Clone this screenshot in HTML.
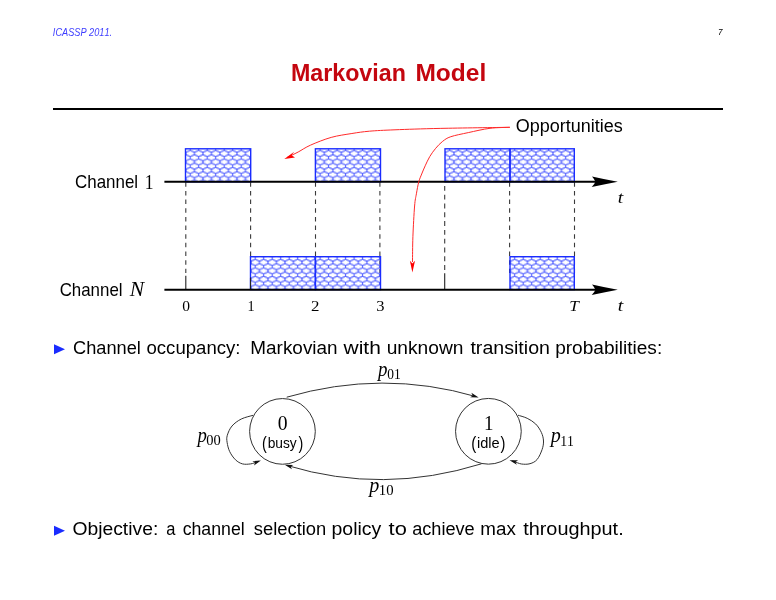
<!DOCTYPE html>
<html><head><meta charset="utf-8"><title>Markovian Model</title>
<style>
html,body{margin:0;padding:0;background:#fff;}
body{width:776px;height:600px;overflow:hidden;}
svg{display:block;}
text{font-kerning:none;}
</style></head>
<body>
<svg width="776" height="600" viewBox="0 0 776 600">
<rect width="776" height="600" fill="#fff"/>
<text x="52.83" y="35.50" font-family="Liberation Sans, sans-serif" font-size="10.1" font-style="italic" textLength="59.32" lengthAdjust="spacingAndGlyphs" fill="#3c3cff">ICASSP 2011.</text>
<text x="717.95" y="35.00" font-family="Liberation Sans, sans-serif" font-size="9.0" font-style="italic" textLength="4.59" lengthAdjust="spacingAndGlyphs" fill="#000">7</text>
<text x="290.93" y="80.50" font-family="Liberation Sans, sans-serif" font-size="24.0" font-weight="bold" textLength="114.90" lengthAdjust="spacingAndGlyphs" fill="#c4060f">Markovian</text>
<text x="415.45" y="80.50" font-family="Liberation Sans, sans-serif" font-size="24.0" font-weight="bold" textLength="70.80" lengthAdjust="spacingAndGlyphs" fill="#c4060f">Model</text>
<rect x="53" y="108" width="670" height="2" fill="#000"/>
<line x1="185.8" y1="182.3" x2="185.8" y2="273" stroke="#3a3a3a" stroke-width="1.1" stroke-dasharray="4.5 4.15"/>
<line x1="250.6" y1="182.3" x2="250.6" y2="273" stroke="#3a3a3a" stroke-width="1.1" stroke-dasharray="4.5 4.15"/>
<line x1="315.5" y1="182.3" x2="315.5" y2="273" stroke="#3a3a3a" stroke-width="1.1" stroke-dasharray="4.5 4.15"/>
<line x1="379.9" y1="182.3" x2="379.9" y2="273" stroke="#3a3a3a" stroke-width="1.1" stroke-dasharray="4.5 4.15"/>
<line x1="444.7" y1="185.9" x2="444.7" y2="270" stroke="#3a3a3a" stroke-width="1.1" stroke-dasharray="4.9 3.9"/>
<line x1="509.6" y1="182.3" x2="509.6" y2="273" stroke="#3a3a3a" stroke-width="1.1" stroke-dasharray="4.5 4.15"/>
<line x1="574.5" y1="182.3" x2="574.5" y2="273" stroke="#3a3a3a" stroke-width="1.1" stroke-dasharray="4.5 4.15"/>
<defs>
<pattern id="hp0" patternUnits="userSpaceOnUse" x="185.95" y="149.30" width="8.5" height="8.45"><ellipse cx="0.000" cy="0.000" rx="4.250" ry="3.0" fill="none" stroke="#2a3cff" stroke-width="0.6"/><ellipse cx="8.500" cy="0.000" rx="4.250" ry="3.0" fill="none" stroke="#2a3cff" stroke-width="0.6"/><ellipse cx="4.250" cy="4.225" rx="4.250" ry="3.0" fill="none" stroke="#2a3cff" stroke-width="0.6"/><ellipse cx="0.000" cy="8.450" rx="4.250" ry="3.0" fill="none" stroke="#2a3cff" stroke-width="0.6"/><ellipse cx="8.500" cy="8.450" rx="4.250" ry="3.0" fill="none" stroke="#2a3cff" stroke-width="0.6"/><ellipse cx="-4.250" cy="4.225" rx="4.250" ry="3.0" fill="none" stroke="#2a3cff" stroke-width="0.6"/><ellipse cx="12.750" cy="4.225" rx="4.250" ry="3.0" fill="none" stroke="#2a3cff" stroke-width="0.6"/><ellipse cx="4.250" cy="-4.225" rx="4.250" ry="3.0" fill="none" stroke="#2a3cff" stroke-width="0.6"/><ellipse cx="4.250" cy="12.675" rx="4.250" ry="3.0" fill="none" stroke="#2a3cff" stroke-width="0.6"/><path d="M0,0" stroke="#2a3cff" stroke-width="0.6" fill="none"/></pattern>
<pattern id="hp1" patternUnits="userSpaceOnUse" x="315.85" y="149.30" width="8.5" height="8.45"><ellipse cx="0.000" cy="0.000" rx="4.250" ry="3.0" fill="none" stroke="#2a3cff" stroke-width="0.6"/><ellipse cx="8.500" cy="0.000" rx="4.250" ry="3.0" fill="none" stroke="#2a3cff" stroke-width="0.6"/><ellipse cx="4.250" cy="4.225" rx="4.250" ry="3.0" fill="none" stroke="#2a3cff" stroke-width="0.6"/><ellipse cx="0.000" cy="8.450" rx="4.250" ry="3.0" fill="none" stroke="#2a3cff" stroke-width="0.6"/><ellipse cx="8.500" cy="8.450" rx="4.250" ry="3.0" fill="none" stroke="#2a3cff" stroke-width="0.6"/><ellipse cx="-4.250" cy="4.225" rx="4.250" ry="3.0" fill="none" stroke="#2a3cff" stroke-width="0.6"/><ellipse cx="12.750" cy="4.225" rx="4.250" ry="3.0" fill="none" stroke="#2a3cff" stroke-width="0.6"/><ellipse cx="4.250" cy="-4.225" rx="4.250" ry="3.0" fill="none" stroke="#2a3cff" stroke-width="0.6"/><ellipse cx="4.250" cy="12.675" rx="4.250" ry="3.0" fill="none" stroke="#2a3cff" stroke-width="0.6"/><path d="M0,0" stroke="#2a3cff" stroke-width="0.6" fill="none"/></pattern>
<pattern id="hp2" patternUnits="userSpaceOnUse" x="445.45" y="149.30" width="8.5" height="8.45"><ellipse cx="0.000" cy="0.000" rx="4.250" ry="3.0" fill="none" stroke="#2a3cff" stroke-width="0.6"/><ellipse cx="8.500" cy="0.000" rx="4.250" ry="3.0" fill="none" stroke="#2a3cff" stroke-width="0.6"/><ellipse cx="4.250" cy="4.225" rx="4.250" ry="3.0" fill="none" stroke="#2a3cff" stroke-width="0.6"/><ellipse cx="0.000" cy="8.450" rx="4.250" ry="3.0" fill="none" stroke="#2a3cff" stroke-width="0.6"/><ellipse cx="8.500" cy="8.450" rx="4.250" ry="3.0" fill="none" stroke="#2a3cff" stroke-width="0.6"/><ellipse cx="-4.250" cy="4.225" rx="4.250" ry="3.0" fill="none" stroke="#2a3cff" stroke-width="0.6"/><ellipse cx="12.750" cy="4.225" rx="4.250" ry="3.0" fill="none" stroke="#2a3cff" stroke-width="0.6"/><ellipse cx="4.250" cy="-4.225" rx="4.250" ry="3.0" fill="none" stroke="#2a3cff" stroke-width="0.6"/><ellipse cx="4.250" cy="12.675" rx="4.250" ry="3.0" fill="none" stroke="#2a3cff" stroke-width="0.6"/><path d="M0,0" stroke="#2a3cff" stroke-width="0.6" fill="none"/></pattern>
<pattern id="hp3" patternUnits="userSpaceOnUse" x="510.45" y="149.30" width="8.5" height="8.45"><ellipse cx="0.000" cy="0.000" rx="4.250" ry="3.0" fill="none" stroke="#2a3cff" stroke-width="0.6"/><ellipse cx="8.500" cy="0.000" rx="4.250" ry="3.0" fill="none" stroke="#2a3cff" stroke-width="0.6"/><ellipse cx="4.250" cy="4.225" rx="4.250" ry="3.0" fill="none" stroke="#2a3cff" stroke-width="0.6"/><ellipse cx="0.000" cy="8.450" rx="4.250" ry="3.0" fill="none" stroke="#2a3cff" stroke-width="0.6"/><ellipse cx="8.500" cy="8.450" rx="4.250" ry="3.0" fill="none" stroke="#2a3cff" stroke-width="0.6"/><ellipse cx="-4.250" cy="4.225" rx="4.250" ry="3.0" fill="none" stroke="#2a3cff" stroke-width="0.6"/><ellipse cx="12.750" cy="4.225" rx="4.250" ry="3.0" fill="none" stroke="#2a3cff" stroke-width="0.6"/><ellipse cx="4.250" cy="-4.225" rx="4.250" ry="3.0" fill="none" stroke="#2a3cff" stroke-width="0.6"/><ellipse cx="4.250" cy="12.675" rx="4.250" ry="3.0" fill="none" stroke="#2a3cff" stroke-width="0.6"/><path d="M0,0" stroke="#2a3cff" stroke-width="0.6" fill="none"/></pattern>
<pattern id="hp4" patternUnits="userSpaceOnUse" x="250.95" y="258.20" width="8.5" height="8.45"><ellipse cx="0.000" cy="0.000" rx="4.250" ry="3.0" fill="none" stroke="#2a3cff" stroke-width="0.6"/><ellipse cx="8.500" cy="0.000" rx="4.250" ry="3.0" fill="none" stroke="#2a3cff" stroke-width="0.6"/><ellipse cx="4.250" cy="4.225" rx="4.250" ry="3.0" fill="none" stroke="#2a3cff" stroke-width="0.6"/><ellipse cx="0.000" cy="8.450" rx="4.250" ry="3.0" fill="none" stroke="#2a3cff" stroke-width="0.6"/><ellipse cx="8.500" cy="8.450" rx="4.250" ry="3.0" fill="none" stroke="#2a3cff" stroke-width="0.6"/><ellipse cx="-4.250" cy="4.225" rx="4.250" ry="3.0" fill="none" stroke="#2a3cff" stroke-width="0.6"/><ellipse cx="12.750" cy="4.225" rx="4.250" ry="3.0" fill="none" stroke="#2a3cff" stroke-width="0.6"/><ellipse cx="4.250" cy="-4.225" rx="4.250" ry="3.0" fill="none" stroke="#2a3cff" stroke-width="0.6"/><ellipse cx="4.250" cy="12.675" rx="4.250" ry="3.0" fill="none" stroke="#2a3cff" stroke-width="0.6"/><path d="M0,0" stroke="#2a3cff" stroke-width="0.6" fill="none"/></pattern>
<pattern id="hp5" patternUnits="userSpaceOnUse" x="315.85" y="258.20" width="8.5" height="8.45"><ellipse cx="0.000" cy="0.000" rx="4.250" ry="3.0" fill="none" stroke="#2a3cff" stroke-width="0.6"/><ellipse cx="8.500" cy="0.000" rx="4.250" ry="3.0" fill="none" stroke="#2a3cff" stroke-width="0.6"/><ellipse cx="4.250" cy="4.225" rx="4.250" ry="3.0" fill="none" stroke="#2a3cff" stroke-width="0.6"/><ellipse cx="0.000" cy="8.450" rx="4.250" ry="3.0" fill="none" stroke="#2a3cff" stroke-width="0.6"/><ellipse cx="8.500" cy="8.450" rx="4.250" ry="3.0" fill="none" stroke="#2a3cff" stroke-width="0.6"/><ellipse cx="-4.250" cy="4.225" rx="4.250" ry="3.0" fill="none" stroke="#2a3cff" stroke-width="0.6"/><ellipse cx="12.750" cy="4.225" rx="4.250" ry="3.0" fill="none" stroke="#2a3cff" stroke-width="0.6"/><ellipse cx="4.250" cy="-4.225" rx="4.250" ry="3.0" fill="none" stroke="#2a3cff" stroke-width="0.6"/><ellipse cx="4.250" cy="12.675" rx="4.250" ry="3.0" fill="none" stroke="#2a3cff" stroke-width="0.6"/><path d="M0,0" stroke="#2a3cff" stroke-width="0.6" fill="none"/></pattern>
<pattern id="hp6" patternUnits="userSpaceOnUse" x="510.45" y="258.20" width="8.5" height="8.45"><ellipse cx="0.000" cy="0.000" rx="4.250" ry="3.0" fill="none" stroke="#2a3cff" stroke-width="0.6"/><ellipse cx="8.500" cy="0.000" rx="4.250" ry="3.0" fill="none" stroke="#2a3cff" stroke-width="0.6"/><ellipse cx="4.250" cy="4.225" rx="4.250" ry="3.0" fill="none" stroke="#2a3cff" stroke-width="0.6"/><ellipse cx="0.000" cy="8.450" rx="4.250" ry="3.0" fill="none" stroke="#2a3cff" stroke-width="0.6"/><ellipse cx="8.500" cy="8.450" rx="4.250" ry="3.0" fill="none" stroke="#2a3cff" stroke-width="0.6"/><ellipse cx="-4.250" cy="4.225" rx="4.250" ry="3.0" fill="none" stroke="#2a3cff" stroke-width="0.6"/><ellipse cx="12.750" cy="4.225" rx="4.250" ry="3.0" fill="none" stroke="#2a3cff" stroke-width="0.6"/><ellipse cx="4.250" cy="-4.225" rx="4.250" ry="3.0" fill="none" stroke="#2a3cff" stroke-width="0.6"/><ellipse cx="4.250" cy="12.675" rx="4.250" ry="3.0" fill="none" stroke="#2a3cff" stroke-width="0.6"/><path d="M0,0" stroke="#2a3cff" stroke-width="0.6" fill="none"/></pattern>
</defs>
<rect x="185.5" y="148.8" width="65.20" height="33.00" fill="url(#hp0)" stroke="#1a2cff" stroke-width="1.4"/>
<rect x="315.4" y="148.8" width="65.10" height="33.00" fill="url(#hp1)" stroke="#1a2cff" stroke-width="1.4"/>
<rect x="445.0" y="148.8" width="65.00" height="33.00" fill="url(#hp2)" stroke="#1a2cff" stroke-width="1.4"/>
<rect x="510.0" y="148.8" width="64.30" height="33.00" fill="url(#hp3)" stroke="#1a2cff" stroke-width="1.4"/>
<rect x="250.5" y="256.7" width="64.90" height="32.90" fill="url(#hp4)" stroke="#1a2cff" stroke-width="1.4"/>
<rect x="315.4" y="256.7" width="65.10" height="32.90" fill="url(#hp5)" stroke="#1a2cff" stroke-width="1.4"/>
<rect x="510.0" y="256.7" width="64.30" height="32.90" fill="url(#hp6)" stroke="#1a2cff" stroke-width="1.4"/>
<line x1="185.8" y1="275.8" x2="185.8" y2="290" stroke="#222" stroke-width="1.1"/>
<line x1="444.7" y1="273.2" x2="444.7" y2="290" stroke="#222" stroke-width="1.1"/>
<line x1="250.5" y1="277.5" x2="250.5" y2="290" stroke="#222" stroke-width="1.1"/>
<line x1="164.4" y1="181.8" x2="596" y2="181.8" stroke="#000" stroke-width="2"/>
<path d="M617.8,181.8 Q604,179.20000000000002 592.0,176.5 Q594.6,179.4 595.4,181.8 Q594.6,184.20000000000002 591.7,187.10000000000002 Q604,184.4 617.8,181.8 Z" fill="#000"/>
<line x1="164.4" y1="289.8" x2="596" y2="289.8" stroke="#000" stroke-width="2"/>
<path d="M617.8,289.8 Q604,287.2 592.0,284.5 Q594.6,287.40000000000003 595.4,289.8 Q594.6,292.2 591.7,295.1 Q604,292.40000000000003 617.8,289.8 Z" fill="#000"/>
<text x="75.05" y="188.40" font-family="Liberation Sans, sans-serif" font-size="18.5" textLength="63.09" lengthAdjust="spacingAndGlyphs" fill="#000">Channel</text>
<text x="144.66" y="188.60" font-family="Liberation Serif, sans-serif" font-size="21" textLength="8.79" lengthAdjust="spacingAndGlyphs" fill="#000">1</text>
<text x="59.66" y="296.30" font-family="Liberation Sans, sans-serif" font-size="18.5" textLength="62.89" lengthAdjust="spacingAndGlyphs" fill="#000">Channel</text>
<text x="129.76" y="296.30" font-family="Liberation Serif, sans-serif" font-size="20.5" font-style="italic" textLength="14.36" lengthAdjust="spacingAndGlyphs" fill="#000">N</text>
<text x="617.71" y="202.50" font-family="Liberation Serif, sans-serif" font-size="17" font-style="italic" textLength="5.50" lengthAdjust="spacingAndGlyphs" fill="#000">t</text>
<text x="617.71" y="311.10" font-family="Liberation Serif, sans-serif" font-size="17" font-style="italic" textLength="5.50" lengthAdjust="spacingAndGlyphs" fill="#000">t</text>
<text x="569.28" y="311.10" font-family="Liberation Serif, sans-serif" font-size="15.0" font-style="italic" textLength="9.61" lengthAdjust="spacingAndGlyphs" fill="#000">T</text>
<text x="182.32" y="310.80" font-family="Liberation Serif, sans-serif" font-size="14.2" textLength="7.76" lengthAdjust="spacingAndGlyphs" fill="#000">0</text>
<text x="247.46" y="310.80" font-family="Liberation Serif, sans-serif" font-size="14.2" textLength="7.09" lengthAdjust="spacingAndGlyphs" fill="#000">1</text>
<text x="311.08" y="310.80" font-family="Liberation Serif, sans-serif" font-size="14.2" textLength="8.45" lengthAdjust="spacingAndGlyphs" fill="#000">2</text>
<text x="376.22" y="310.80" font-family="Liberation Serif, sans-serif" font-size="14.2" textLength="8.24" lengthAdjust="spacingAndGlyphs" fill="#000">3</text>
<text x="515.85" y="132.20" font-family="Liberation Sans, sans-serif" font-size="18.3" textLength="106.99" lengthAdjust="spacingAndGlyphs" fill="#000">Opportunities</text>
<path d="M509.80,127.30 C498.20,127.48 459.33,127.98 440.20,128.40 C421.07,128.82 406.80,129.33 395.00,129.80 C383.20,130.27 376.58,130.58 369.40,131.20 C362.22,131.82 358.27,132.47 351.90,133.50 C345.53,134.53 338.08,135.47 331.20,137.40 C324.32,139.33 316.10,142.67 310.60,145.10 C305.10,147.53 302.13,149.93 298.20,152.00 C294.27,154.07 288.87,156.58 287.00,157.50" stroke="#ff2a2a" stroke-width="1.0" fill="none"/>
<path d="M509.80,127.30 C506.50,127.47 496.92,127.42 490.00,128.30 C483.08,129.18 474.83,131.20 468.30,132.60 C461.77,134.00 455.07,135.25 450.80,136.70 C446.53,138.15 445.22,139.37 442.70,141.30 C440.18,143.23 437.85,145.77 435.70,148.30 C433.55,150.83 431.55,153.58 429.80,156.50 C428.05,159.42 426.55,162.88 425.20,165.80 C423.85,168.72 422.78,171.28 421.70,174.00 C420.62,176.72 419.58,178.80 418.70,182.10 C417.82,185.40 417.08,189.82 416.40,193.80 C415.72,197.78 415.18,198.85 414.60,206.00 C414.02,213.15 413.25,227.37 412.90,236.70 C412.55,246.03 412.57,257.78 412.50,262.00" stroke="#ff2a2a" stroke-width="1.0" fill="none"/>
<path d="M284.3,159 L294.2,151.8 L291.5,155.3 L295,157.6 Z" fill="#ff0000"/>
<path d="M412.4,272.4 L409.9,260.8 L412.4,263.5 L415.0,260.8 Z" fill="#ff0000"/>
<path d="M54,344.3 L65,349.3 L54,354.3 Z" fill="#1a2cff"/>
<path d="M54,525.8 L65,530.8 L54,535.8 Z" fill="#1a2cff"/>
<text x="72.99" y="353.80" font-family="Liberation Sans, sans-serif" font-size="18.7" textLength="67.84" lengthAdjust="spacingAndGlyphs" fill="#000">Channel</text>
<text x="146.51" y="353.80" font-family="Liberation Sans, sans-serif" font-size="18.7" textLength="93.98" lengthAdjust="spacingAndGlyphs" fill="#000">occupancy:</text>
<text x="250.34" y="353.80" font-family="Liberation Sans, sans-serif" font-size="18.7" textLength="87.25" lengthAdjust="spacingAndGlyphs" fill="#000">Markovian</text>
<text x="343.55" y="353.80" font-family="Liberation Sans, sans-serif" font-size="18.7" textLength="37.28" lengthAdjust="spacingAndGlyphs" fill="#000">with</text>
<text x="386.65" y="353.80" font-family="Liberation Sans, sans-serif" font-size="18.7" textLength="76.76" lengthAdjust="spacingAndGlyphs" fill="#000">unknown</text>
<text x="470.41" y="353.80" font-family="Liberation Sans, sans-serif" font-size="18.7" textLength="79.52" lengthAdjust="spacingAndGlyphs" fill="#000">transition</text>
<text x="555.16" y="353.80" font-family="Liberation Sans, sans-serif" font-size="18.7" textLength="107.05" lengthAdjust="spacingAndGlyphs" fill="#000">probabilities:</text>
<text x="72.48" y="534.50" font-family="Liberation Sans, sans-serif" font-size="18.7" textLength="85.78" lengthAdjust="spacingAndGlyphs" fill="#000">Objective:</text>
<text x="166.30" y="534.50" font-family="Liberation Sans, sans-serif" font-size="18.7" textLength="9.18" lengthAdjust="spacingAndGlyphs" fill="#000">a</text>
<text x="182.65" y="534.50" font-family="Liberation Sans, sans-serif" font-size="18.7" textLength="62.06" lengthAdjust="spacingAndGlyphs" fill="#000">channel</text>
<text x="253.79" y="534.50" font-family="Liberation Sans, sans-serif" font-size="18.7" textLength="72.49" lengthAdjust="spacingAndGlyphs" fill="#000">selection</text>
<text x="331.53" y="534.50" font-family="Liberation Sans, sans-serif" font-size="18.7" textLength="49.80" lengthAdjust="spacingAndGlyphs" fill="#000">policy</text>
<text x="388.57" y="534.50" font-family="Liberation Sans, sans-serif" font-size="18.7" textLength="18.24" lengthAdjust="spacingAndGlyphs" fill="#000">to</text>
<text x="412.13" y="534.50" font-family="Liberation Sans, sans-serif" font-size="18.7" textLength="62.58" lengthAdjust="spacingAndGlyphs" fill="#000">achieve</text>
<text x="480.33" y="534.50" font-family="Liberation Sans, sans-serif" font-size="18.7" textLength="35.49" lengthAdjust="spacingAndGlyphs" fill="#000">max</text>
<text x="523.20" y="534.50" font-family="Liberation Sans, sans-serif" font-size="18.7" textLength="100.48" lengthAdjust="spacingAndGlyphs" fill="#000">throughput.</text>
<circle cx="282.45" cy="431.4" r="32.85" stroke="#333" stroke-width="1" fill="none"/>
<circle cx="488.4" cy="431.3" r="32.85" stroke="#333" stroke-width="1" fill="none"/>
<text x="277.66" y="429.80" font-family="Liberation Serif, sans-serif" font-size="20" textLength="9.82" lengthAdjust="spacingAndGlyphs" fill="#000">0</text>
<text x="483.94" y="430.00" font-family="Liberation Serif, sans-serif" font-size="20" textLength="9.50" lengthAdjust="spacingAndGlyphs" fill="#000">1</text>
<text x="261.90" y="448.75" font-family="Liberation Sans, sans-serif" font-size="18.552278820375346" textLength="4.78" lengthAdjust="spacingAndGlyphs" fill="#000">(</text>
<text x="267.71" y="447.50" font-family="Liberation Sans, sans-serif" font-size="15.5" textLength="29.03" lengthAdjust="spacingAndGlyphs" fill="#000">busy</text>
<text x="298.59" y="448.75" font-family="Liberation Sans, sans-serif" font-size="18.552278820375346" textLength="4.78" lengthAdjust="spacingAndGlyphs" fill="#000">)</text>
<text x="471.36" y="448.77" font-family="Liberation Sans, sans-serif" font-size="18.44504021447726" textLength="5.03" lengthAdjust="spacingAndGlyphs" fill="#000">(</text>
<text x="477.01" y="447.50" font-family="Liberation Sans, sans-serif" font-size="15.5" textLength="22.73" lengthAdjust="spacingAndGlyphs" fill="#000">idle</text>
<text x="500.49" y="448.77" font-family="Liberation Sans, sans-serif" font-size="18.44504021447726" textLength="4.90" lengthAdjust="spacingAndGlyphs" fill="#000">)</text>
<path d="M286.7,397.2 Q382.7,369.3 476,396.6" stroke="#333" stroke-width="1" fill="none"/>
<path d="M481.5,463.8 Q382.9,494.5 287.5,465.6" stroke="#333" stroke-width="1" fill="none"/>
<path d="M253.10,415.30 C251.13,415.92 244.82,417.22 241.30,419.00 C237.78,420.78 234.33,423.28 232.00,426.00 C229.67,428.72 228.12,432.58 227.30,435.30 C226.48,438.02 226.70,439.58 227.10,442.30 C227.50,445.02 228.30,448.68 229.70,451.60 C231.10,454.52 233.37,457.75 235.50,459.80 C237.63,461.85 239.98,463.22 242.50,463.90 C245.02,464.58 248.27,464.20 250.60,463.90 C252.93,463.60 255.18,462.53 256.50,462.10 C257.82,461.67 258.17,461.43 258.50,461.30" stroke="#333" stroke-width="1" fill="none"/>
<path d="M518.00,415.20 C519.53,415.72 524.25,416.83 527.20,418.30 C530.15,419.77 533.33,421.63 535.70,424.00 C538.07,426.37 540.10,429.67 541.40,432.50 C542.70,435.33 543.38,438.17 543.50,441.00 C543.62,443.83 543.17,446.42 542.10,449.50 C541.03,452.58 539.12,457.13 537.10,459.50 C535.08,461.87 532.60,462.95 530.00,463.70 C527.40,464.45 524.08,464.35 521.50,464.00 C518.92,463.65 516.08,462.12 514.50,461.60 C512.92,461.08 512.42,461.02 512.00,460.90" stroke="#333" stroke-width="1" fill="none"/>
<path d="M478.70,397.40 L470.09,397.28 L472.73,395.65 L471.38,392.86 Z" fill="#111"/>
<path d="M284.70,464.70 L293.31,464.91 L290.66,466.51 L291.97,469.31 Z" fill="#111"/>
<path d="M260.90,460.40 L253.99,465.54 L255.09,462.64 L252.33,461.25 Z" fill="#111"/>
<path d="M509.50,460.20 L518.11,460.22 L515.49,461.88 L516.87,464.65 Z" fill="#111"/>
<text x="378.09" y="375.50" font-family="Liberation Serif, sans-serif" font-size="20" font-style="italic" textLength="9.48" lengthAdjust="spacingAndGlyphs" fill="#000">p</text>
<text x="387.30" y="378.80" font-family="Liberation Serif, sans-serif" font-size="14" textLength="13.41" lengthAdjust="spacingAndGlyphs" fill="#000">01</text>
<text x="369.36" y="492.00" font-family="Liberation Serif, sans-serif" font-size="20" font-style="italic" textLength="10.05" lengthAdjust="spacingAndGlyphs" fill="#000">p</text>
<text x="378.81" y="494.80" font-family="Liberation Serif, sans-serif" font-size="14" textLength="14.74" lengthAdjust="spacingAndGlyphs" fill="#000">10</text>
<text x="197.48" y="442.30" font-family="Liberation Serif, sans-serif" font-size="20" font-style="italic" textLength="9.38" lengthAdjust="spacingAndGlyphs" fill="#000">p</text>
<text x="206.36" y="445.20" font-family="Liberation Serif, sans-serif" font-size="14" textLength="14.49" lengthAdjust="spacingAndGlyphs" fill="#000">00</text>
<text x="550.66" y="442.00" font-family="Liberation Serif, sans-serif" font-size="20" font-style="italic" textLength="10.05" lengthAdjust="spacingAndGlyphs" fill="#000">p</text>
<text x="560.15" y="445.60" font-family="Liberation Serif, sans-serif" font-size="14" textLength="13.70" lengthAdjust="spacingAndGlyphs" fill="#000">11</text>
</svg>
</body></html>
